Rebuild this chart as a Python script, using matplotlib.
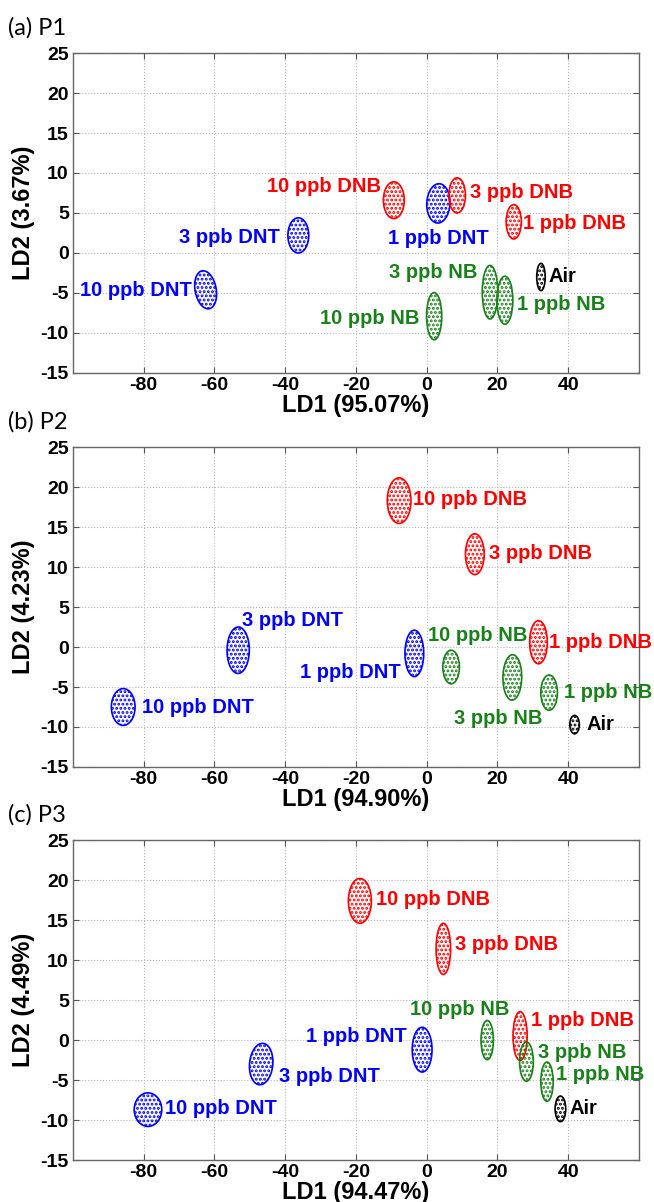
import numpy as np
import matplotlib
matplotlib.use("Agg")
import matplotlib.pyplot as plt
from matplotlib.patches import Ellipse

# classes shown in every panel
classes = ['10 ppb DNT', '3 ppb DNT', '1 ppb DNT',
           '10 ppb DNB', '3 ppb DNB', '1 ppb DNB',
           '10 ppb NB', '3 ppb NB', '1 ppb NB', 'Air']
class_colors = ['#0000ff'] * 3 + ['#ff0000'] * 3 + ['#1a801a'] * 3 + ['#000000']

panel_titles = ['(a) P1', '(b) P2', '(c) P3']
ld1_pct = ['95.07', '94.90', '94.47']
ld2_pct = ['3.67', '4.23', '4.49']

# cluster centres (LD1, LD2) and ellipse full widths / heights
p1_ld1 = [-62.5, -36.3, 3.3, -9.3, 8.6, 24.6, 2.1, 17.9, 22.1, 32.3]
p1_ld2 = [-4.6, 2.2, 6.2, 6.6, 7.2, 3.9, -7.9, -4.9, -5.9, -3.0]
p1_w = [6.4, 5.9, 6.6, 5.9, 4.7, 4.3, 4.3, 4.4, 4.5, 2.4]
p1_h = [4.5, 4.4, 4.9, 4.6, 4.4, 4.3, 5.9, 6.7, 6.0, 3.4]
p1_tilt = [-20, 0, 5, 0, 0, 0, 0, 0, 0, 0]

p2_ld1 = [-85.8, -53.3, -3.5, -7.8, 13.6, 31.6, 6.9, 24.2, 34.6, 41.8]
p2_ld2 = [-7.5, -0.4, -0.8, 18.3, 11.6, 0.6, -2.5, -3.8, -5.7, -9.7]
p2_w = [6.7, 6.3, 5.3, 6.7, 5.3, 5.0, 4.7, 5.3, 4.7, 2.7]
p2_h = [4.6, 5.8, 5.8, 5.7, 5.1, 5.4, 4.2, 5.7, 4.4, 2.3]
p2_tilt = [0, 5, 0, 0, 0, 0, 0, -12, 0, 0]

p3_ld1 = [-78.8, -46.8, -1.3, -18.9, 4.7, 26.4, 17.1, 28.2, 34.0, 37.8]
p3_ld2 = [-8.7, -3.0, -1.2, 17.4, 11.4, 0.5, 0.0, -2.7, -5.2, -8.6]
p3_w = [7.8, 6.7, 5.6, 6.5, 4.1, 4.0, 3.5, 3.9, 3.5, 3.0]
p3_h = [4.2, 5.1, 5.6, 5.6, 6.4, 6.1, 4.9, 4.9, 4.9, 3.2]
p3_tilt = [0, 12, 0, 0, 0, 0, 0, 0, 0, 0]

# label anchor points (layout only)
p1_lab = [(-66.5, -4.7, 'right'), (-41.5, 1.9, 'right'), (3.4, 1.8, 'center'),
          (-13.0, 8.3, 'right'), (12.3, 7.5, 'left'), (27.3, 3.7, 'left'),
          (-2.0, -8.2, 'right'), (14.3, -2.5, 'right'), (25.4, -6.4, 'left'),
          (34.4, -2.9, 'left')]
p2_lab = [(-80.4, -7.6, 'left'), (-52.2, 3.3, 'left'), (-7.3, -3.2, 'right'),
          (-3.8, 18.4, 'left'), (17.7, 11.7, 'left'), (34.6, 0.6, 'left'),
          (28.4, 1.4, 'right'), (20.1, -8.9, 'center'), (38.8, -5.7, 'left'),
          (45.3, -9.7, 'left')]
p3_lab = [(-74.1, -8.6, 'left'), (-41.8, -4.6, 'left'), (-5.6, 0.5, 'right'),
          (-14.2, 17.6, 'left'), (8.0, 11.9, 'left'), (29.6, 2.4, 'left'),
          (23.4, 3.8, 'right'), (31.4, -1.5, 'left'), (36.6, -4.3, 'left'),
          (40.5, -8.6, 'left')]

panels = [
    (p1_ld1, p1_ld2, p1_w, p1_h, p1_tilt, p1_lab),
    (p2_ld1, p2_ld2, p2_w, p2_h, p2_tilt, p2_lab),
    (p3_ld1, p3_ld2, p3_w, p3_h, p3_tilt, p3_lab),
]

plt.rcParams['font.family'] = 'sans-serif'
plt.rcParams['font.sans-serif'] = ['Liberation Sans']
plt.rcParams['axes.unicode_minus'] = False
plt.rcParams['hatch.linewidth'] = 1.4

fig = plt.figure(figsize=(6.54, 12.02), dpi=100)
bottoms = [0.6897, 0.3619, 0.0349]

for k, (xs, ys, ws, hs, tilts, labs) in enumerate(panels):
    ax = fig.add_axes([0.1116, bottoms[k], 0.8654, 0.2662])
    ax.set_xlim(-100, 60)
    ax.set_ylim(-15, 25)
    ax.set_xticks(np.arange(-80, 41, 20))
    ax.set_yticks(np.arange(-15, 26, 5))
    ax.grid(True, linestyle=':', color='#b8b8b8', linewidth=0.8)
    ax.set_axisbelow(True)
    ax.tick_params(direction='in', length=4, top=True, right=True,
                   labelsize=14, color='#555555', pad=3)
    for lbl in ax.get_xticklabels() + ax.get_yticklabels():
        lbl.set_fontweight('bold')
    for sp in ax.spines.values():
        sp.set_color('#666666')
        sp.set_linewidth(1.0)

    for i in range(len(classes)):
        c = class_colors[i]
        e = Ellipse((xs[i], ys[i]), ws[i], hs[i], angle=tilts[i],
                    fill=False, edgecolor=c, linewidth=1.2, hatch='....')
        ax.add_patch(e)
        lx, ly, ha = labs[i]
        ax.text(lx, ly, classes[i], color=c, ha=ha, va='center',
                fontsize=14.5, fontweight='bold')

    ax.set_xlabel('LD1 (%s%%)' % ld1_pct[k], fontsize=17, fontweight='bold',
                  labelpad=0)
    ax.set_ylabel('LD2 (%s%%)' % ld2_pct[k], fontsize=17, fontweight='bold',
                  labelpad=4)
    fig.text(0.012, bottoms[k] + 0.2662 + 0.021, panel_titles[k],
             fontsize=17, family=['Lato', 'DejaVu Sans'], va='center')

fig.savefig('out.png', dpi=100)
